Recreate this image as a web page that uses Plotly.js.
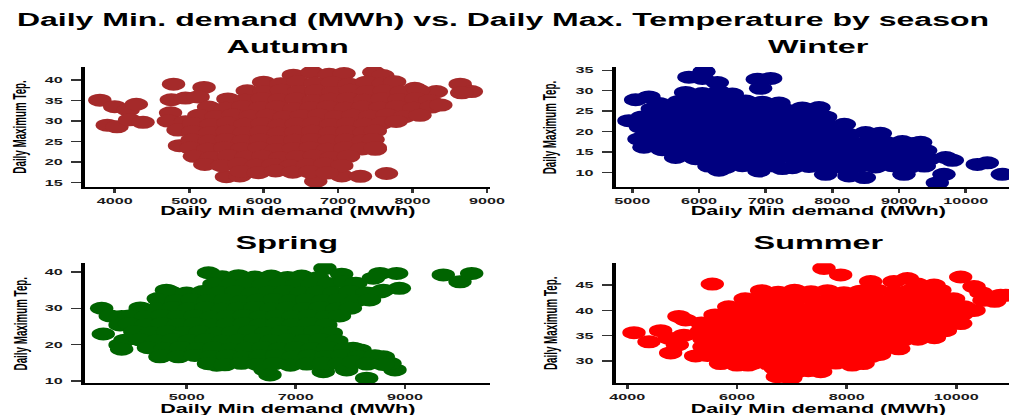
<!DOCTYPE html>
<html><head><meta charset="utf-8">
<script src="https://cdn.plot.ly/plotly-3.0.1.min.js"></script>
<style>
html,body{margin:0;padding:0;background:#fff;overflow:hidden;width:1009px;height:415px}
#wrap{width:1009px;height:415px;overflow:hidden}
#chart{width:561px;height:415px;transform:scaleX(1.79857);transform-origin:0 0}
</style></head><body><div id="wrap"><div id="chart"></div></div>
<script>
const seasons = ["Autumn", "Winter", "Spring", "Summer"];
const seasonColors = ["#A52A2A", "#000080", "#006400", "#FF0000"];
const mainTitle = "Daily Min. demand (MWh) vs. Daily Max. Temperature by season";
const xTitle = "Daily Min demand (MWh)";
const yTitle = "Daily Maximum Tep.";

// [daily min demand (MWh), daily max temperature]
const autumnPoints = [
[3800,35.1],[4000,33.5],[4180,32.7],[4290,34.1],[3900,29.0],[4030,28.6],[4200,30.3],[4380,29.7],
[4790,39.0],[4760,35.2],[4950,35.6],[4750,32.0],[4720,30.0],[4950,29.8],[4850,27.8],[4870,24.0],
[5200,38.2],[5120,35.9],[8320,37.2],[8270,34.0],[8640,39.0],[8790,37.2],[8660,36.9],[8030,38.0],
[7500,23.1],[7520,29.0],[8050,32.7],[5500,16.4],[5680,16.6],[6700,15.3],[7050,16.6],[7300,16.5],[7650,17.2],
[6400,41.2],[6650,41.9],[6880,41.4],[7080,41.6],[7480,41.9],[7600,41.1],
[6000,39.5],[6230,39.1],[6460,39.6],[6690,39.2],[6920,39.4],[7150,39.0],[7380,39.5],[7610,39.2],[7760,39.6],
[5780,37.4],[6010,37.1],[6240,37.5],[6470,37.2],[6700,37.4],[6930,37.0],[7160,37.5],[7390,37.2],[7620,37.4],[7850,37.1],[8080,37.5],
[5520,35.4],[5750,35.1],[5980,35.5],[6210,35.2],[6440,35.4],[6670,35.0],[6900,35.3],[7130,35.5],[7360,35.1],[7590,35.4],[7820,35.2],[8050,35.5],[8230,35.0],
[5260,33.4],[5490,33.1],[5720,33.5],[5950,33.2],[6180,33.4],[6410,33.0],[6640,33.3],[6870,33.5],[7100,33.1],[7330,33.4],[7560,33.2],[7790,33.5],[8020,33.1],[8250,33.4],[8380,33.9],
[5130,31.4],[5360,31.1],[5590,31.5],[5820,31.2],[6050,31.4],[6280,31.0],[6510,31.3],[6740,31.5],[6970,31.1],[7200,31.4],[7430,31.2],[7660,31.5],[7890,31.1],[8100,31.4],
[5060,29.4],[5290,29.1],[5520,29.5],[5750,29.2],[5980,29.4],[6210,29.0],[6440,29.3],[6670,29.5],[6900,29.1],[7130,29.4],[7360,29.2],[7590,29.5],[7780,29.9],
[5050,27.4],[5280,27.1],[5510,27.5],[5740,27.2],[5970,27.4],[6200,27.0],[6430,27.3],[6660,27.5],[6890,27.1],[7120,27.4],[7350,27.2],[7500,27.6],
[5040,25.4],[5270,25.1],[5500,25.5],[5730,25.2],[5960,25.4],[6190,25.0],[6420,25.3],[6650,25.5],[6880,25.1],[7110,25.4],[7340,25.2],[7470,25.5],
[5020,23.4],[5250,23.1],[5480,23.5],[5710,23.2],[5940,23.4],[6170,23.0],[6400,23.3],[6630,23.5],[6860,23.1],[7090,23.4],[7320,23.2],[7500,23.5],
[5070,21.4],[5300,21.1],[5530,21.5],[5760,21.2],[5990,21.4],[6220,21.0],[6450,21.3],[6680,21.5],[6910,21.1],[7140,21.4],
[5210,19.4],[5440,19.1],[5670,19.5],[5900,19.2],[6130,19.4],[6360,19.0],[6590,19.3],[6820,19.5],[7050,19.1],
[5700,17.7],[5930,17.4],[6160,17.8],[6390,17.5],[6620,17.6],[6850,17.3]
];

const winterPoints = [
[6075,34.7],[5850,33.3],[6050,33.0],[6275,32.0],[6875,32.8],[7075,33.0],[6925,30.6],
[5800,29.6],[6050,29.3],[6300,29.8],[6500,29.2],
[5050,27.8],[5250,28.5],[5400,26.9],[5700,27.4],[5950,27.7],[6200,27.3],[6450,27.6],[6700,27.5],[6950,27.2],[7200,27.0],
[5300,25.6],[5550,25.3],[5800,25.7],[6050,25.4],[6300,25.6],[6550,25.2],[6800,25.5],[7050,25.7],[7300,25.3],[7550,25.8],[7800,25.9],
[5150,23.6],[5400,23.3],[5650,23.7],[5900,23.4],[6150,23.6],[6400,23.2],[6650,23.5],[6900,23.7],[7150,23.3],[7400,23.6],[7650,23.4],[7900,23.6],
[5150,21.6],[5400,21.3],[5650,21.7],[5900,21.4],[6150,21.6],[6400,21.2],[6650,21.5],[6900,21.7],[7150,21.3],[7400,21.6],[7650,21.4],[7900,21.7],[8180,21.8],
[5250,19.6],[5500,19.3],[5750,19.7],[6000,19.4],[6250,19.6],[6500,19.2],[6750,19.5],[7000,19.7],[7250,19.3],[7500,19.6],[7750,19.4],[8000,19.7],[8250,19.3],[8500,19.8],[8720,19.6],
[5300,17.6],[5550,17.3],[5800,17.7],[6050,17.4],[6300,17.6],[6550,17.2],[6800,17.5],[7050,17.7],[7300,17.3],[7550,17.6],[7800,17.4],[8050,17.7],[8300,17.3],[8550,17.6],[8800,17.4],[9050,17.6],[9250,17.2],[9325,17.4],
[5450,15.6],[5700,15.3],[5950,15.7],[6200,15.4],[6450,15.6],[6700,15.2],[6950,15.5],[7200,15.7],[7450,15.3],[7700,15.6],[7950,15.4],[8200,15.7],[8450,15.3],[8700,15.6],[8950,15.4],[9200,15.7],[9400,15.4],
[5650,13.7],[5950,13.4],[6200,13.6],[6450,13.3],[6700,13.6],[6950,13.4],[7200,13.7],[7450,13.3],[7700,13.6],[7950,13.4],[8200,13.7],[8450,13.3],[8700,13.6],[8950,13.4],[9200,13.7],[9450,13.3],[9700,13.7],[9800,13.0],
[6150,11.6],[6400,11.3],[6650,11.7],[6900,11.4],[7150,11.6],[7400,11.2],[7650,11.5],[7900,11.7],[8150,11.3],[8400,11.6],[8650,11.4],[8900,11.7],[9150,11.3],[9380,11.6],
[6300,10.6],[6900,10.4],[7250,11.0],[7900,9.6],[8250,9.2],[8480,8.8],
[4950,22.7],[5100,18.2],[5175,16.2],[5125,21.1],
[10175,12.0],[10325,12.4],[10550,9.6],[9575,7.5],[9675,9.6],[9075,9.6]
];

const springPoints = [
[3443,30.0],[3473,22.9],[3600,27.9],[3810,27.7],[3780,25.4],[3870,21.2],[3780,19.9],[3810,18.7],[4150,29.5],[4630,35.0],[4480,32.7],[4510,16.6],
[5400,39.8],[5700,38.0],[7534,41.0],[7840,39.4],[8542,39.6],[8847,39.6],[8420,38.3],[8897,35.5],[9702,39.2],[10008,37.3],[10222,39.6],[8298,34.1],[8603,35.0],
[6527,11.6],[6436,13.0],[7504,12.5],[7932,13.0],[8298,10.7],[8817,13.0],[8725,14.8],[8603,16.6],[8176,18.5],[5550,14.3],
[5650,38.7],[5950,39.0],[6250,38.6],[6550,38.9],[6850,38.5],[7107,38.9],[7400,38.4],
[5500,36.7],[5800,36.4],[6100,36.8],[6400,36.5],[6700,36.7],[7000,36.3],[7300,36.6],[7600,36.8],[7900,37.3],[8100,36.9],
[4700,34.5],[5000,34.2],[5300,34.6],[5600,34.3],[5900,34.5],[6200,34.1],[6500,34.4],[6800,34.6],[7100,34.2],[7400,34.5],[7700,34.3],[8000,34.6],[8300,34.2],[8550,34.5],
[4500,32.3],[4800,32.0],[5100,32.4],[5400,32.1],[5700,32.3],[6000,31.9],[6300,32.2],[6600,32.4],[6900,32.0],[7200,32.3],[7500,32.1],[7800,32.4],[8100,32.0],[8350,32.3],
[4150,30.1],[4450,29.8],[4750,30.2],[5050,29.9],[5350,30.1],[5650,29.7],[5950,30.0],[6250,30.2],[6550,29.8],[6850,30.1],[7150,29.9],[7450,30.2],[7750,29.8],[8000,30.0],
[3950,27.9],[4250,27.6],[4550,28.0],[4850,27.7],[5150,27.9],[5450,27.5],[5750,27.8],[6050,28.0],[6350,27.6],[6650,27.9],[6950,27.7],[7250,28.0],[7550,27.6],[7800,27.9],
[3950,25.7],[4250,25.4],[4550,25.8],[4850,25.5],[5150,25.7],[5450,25.3],[5750,25.6],[6050,25.8],[6350,25.4],[6650,25.7],[6950,25.5],[7250,25.8],[7550,25.4],
[4050,23.5],[4350,23.2],[4650,23.6],[4950,23.3],[5250,23.5],[5550,23.1],[5850,23.4],[6150,23.6],[6450,23.2],[6750,23.5],[7050,23.3],[7350,23.6],[7650,23.2],
[4150,21.3],[4450,21.0],[4750,21.4],[5050,21.1],[5350,21.3],[5650,20.9],[5950,21.2],[6250,21.4],[6550,21.0],[6850,21.3],[7150,21.1],[7450,21.4],[7750,21.0],
[4300,19.1],[4600,18.8],[4900,19.2],[5200,18.9],[5500,19.1],[5800,18.7],[6100,19.0],[6400,19.2],[6700,18.8],[7000,19.1],[7300,18.9],[7600,19.2],[7900,18.8],[8050,19.0],
[4550,16.9],[4850,16.6],[5150,17.0],[5450,16.7],[5750,16.9],[6050,16.5],[6350,16.8],[6650,17.0],[6950,16.6],[7250,16.9],[7550,16.7],[7850,17.0],[8150,16.6],[8450,16.9],
[5400,14.7],[5700,14.4],[6000,14.8],[6300,14.5],[6600,14.7],[6900,14.3],[7200,14.6],[7500,14.8],[7800,14.7],[8050,15.2],[8300,14.6],[8600,14.5]
];

const summerPoints = [
[4122,35.6],[4395,33.8],[4608,36.0],[4760,34.5],[4790,31.6],[4942,38.8],[5033,35.1],[4912,33.2],[5246,31.0],[5064,38.1],[5550,45.2],[5398,32.8],[5459,37.4],
[7587,48.3],[7891,47.0],[8438,45.7],[8863,45.7],[9107,46.3],[9290,45.2],[9594,45.0],[10080,46.6],[10323,44.7],[10505,42.0],[10809,43.0],[10650,42.5],
[10141,40.7],[10323,40.0],[10080,37.4],[10700,41.8],[10900,43.0],[10450,43.5],[6736,26.9],[6979,26.6],[7040,27.6],[7526,27.9],
[6450,43.9],[6750,43.6],[7050,44.0],[7350,43.7],[7650,43.9],[7950,43.5],[8250,43.8],[8550,44.0],[8850,43.6],[9150,43.9],[9450,43.7],[9700,44.0],
[6150,42.3],[6450,42.0],[6750,42.4],[7050,42.1],[7350,42.3],[7650,41.9],[7950,42.2],[8250,42.4],[8550,42.0],[8850,42.3],[9150,42.1],[9450,42.4],[9750,42.0],[9950,42.3],
[5850,40.7],[6150,40.4],[6450,40.8],[6750,40.5],[7050,40.7],[7350,40.3],[7650,40.6],[7950,40.8],[8250,40.4],[8550,40.7],[8850,40.5],[9150,40.8],[9450,40.4],[9750,40.7],[10050,40.5],
[5600,39.1],[5900,38.8],[6200,39.2],[6500,38.9],[6800,39.1],[7100,38.7],[7400,39.0],[7700,39.2],[8000,38.8],[8300,39.1],[8600,38.9],[8900,39.2],[9200,38.8],[9500,39.1],[9800,38.9],[10100,39.2],
[5350,37.5],[5650,37.2],[5950,37.6],[6250,37.3],[6550,37.5],[6850,37.1],[7150,37.4],[7450,37.6],[7750,37.2],[8050,37.5],[8350,37.3],[8650,37.6],[8950,37.2],[9250,37.5],[9550,37.3],[9850,37.6],
[5350,35.9],[5650,35.6],[5950,36.0],[6250,35.7],[6550,35.9],[6850,35.5],[7150,35.8],[7450,36.0],[7750,35.6],[8050,35.9],[8350,35.7],[8650,36.0],[8950,35.6],[9250,35.9],[9550,35.7],[9800,36.0],
[5400,34.3],[5700,34.0],[6000,34.4],[6300,34.1],[6600,34.3],[6900,33.9],[7200,34.2],[7500,34.4],[7800,34.0],[8100,34.3],[8400,34.1],[8700,34.4],[9000,34.0],[9300,34.3],[9600,34.6],
[5420,32.7],[5720,32.4],[6020,32.8],[6320,32.5],[6620,32.7],[6920,32.3],[7220,32.6],[7520,32.8],[7820,32.4],[8120,32.7],[8420,32.5],[8720,32.8],[8950,32.4],
[5460,31.1],[5760,30.8],[6060,31.2],[6360,30.9],[6660,31.1],[6960,30.7],[7260,31.0],[7560,31.2],[7860,30.8],[8160,31.1],[8450,30.9],[8600,31.3],
[5700,29.5],[6000,29.2],[6300,29.6],[6600,29.3],[6900,29.5],[7200,29.1],[7500,29.4],[7800,29.6],[8100,29.2],[8300,29.5],
[6200,29.2],[6700,28.5],[7000,28.3],[7300,28.1],[7500,28.2]
];

const autumnXTicks = [4000, 5000, 6000, 7000, 8000, 9000];
const autumnYTicks = [15, 20, 25, 30, 35, 40];
const winterXTicks = [5000, 6000, 7000, 8000, 9000, 10000];
const winterYTicks = [10, 15, 20, 25, 30, 35];
const springXTicks = [5000, 7000, 9000];
const springYTicks = [10, 20, 30, 40];
const summerXTicks = [4000, 6000, 8000, 10000];
const summerYTicks = [30, 35, 40, 45];

const seasonPoints = [autumnPoints, winterPoints, springPoints, summerPoints];
const xTickSets = [autumnXTicks, winterXTicks, springXTicks, summerXTicks];
const yTickSets = [autumnYTicks, winterYTicks, springYTicks, summerYTicks];
const xRanges = [[3600, 9040], [4751, 10650], [3137, 10557], [3788, 10961]];
const yRanges = [[13.9, 43.2], [6.5, 35.8], [9.3, 42.4], [25.6, 49.3]];

const FONT = "Liberation Sans, Arial, Helvetica, sans-serif";
const xDomains = [[0.0842, 0.4856], [0.6102, 1.0], [0.0842, 0.4856], [0.6102, 1.0]];
const yDomains = [[0.5494, 0.8386], [0.5494, 0.8386], [0.0764, 0.3655], [0.0764, 0.3655]];

const traces = seasons.map((s, i) => ({
  type: "scatter", mode: "markers", name: s,
  x: seasonPoints[i].map(p => p[0]),
  y: seasonPoints[i].map(p => p[1]),
  xaxis: i === 0 ? "x" : "x" + (i + 1),
  yaxis: i === 0 ? "y" : "y" + (i + 1),
  marker: {color: seasonColors[i], size: 13, line: {width: 0}},
  showlegend: false, hoverinfo: "skip"
}));

const layout = {
  width: 561, height: 415,
  margin: {l: 0, r: 0, t: 0, b: 0, pad: 0},
  paper_bgcolor: "#fff", plot_bgcolor: "#fff",
  font: {family: FONT, color: "#000"},
  showlegend: false,
  title: {text: mainTitle, x: 0.4985, y: 0.952, xanchor: "center", yanchor: "middle",
          xref: "paper", yref: "paper",
          font: {family: FONT, size: 17.8, weight: "bold", color: "#000"}},
  annotations: []
};

const subX = [0.2849, 0.811, 0.2849, 0.811];
const subTitleY = [0.8867, 0.8867, 0.4145, 0.4145];
const xTitleY = [0.491, 0.491, 0.0145, 0.0145];
const yTitleX = [0.0208, 0.546, 0.0198, 0.545];

seasons.forEach((s, i) => {
  const k = i === 0 ? "" : String(i + 1);
  layout["xaxis" + k] = {
    domain: xDomains[i], range: xRanges[i], anchor: "y" + k,
    tickvals: xTickSets[i], ticktext: xTickSets[i].map(String),
    showline: true, linecolor: "#000", linewidth: 2,
    ticks: "outside", ticklen: 4, tickwidth: 1.5, tickcolor: "#333",
    showgrid: false, zeroline: false,
    tickfont: {family: FONT, size: 9, weight: "bold", color: "#1a1a1a"}
  };
  layout["yaxis" + k] = {
    domain: yDomains[i], range: yRanges[i], anchor: "x" + k,
    tickvals: yTickSets[i], ticktext: yTickSets[i].map(String),
    showline: true, linecolor: "#000", linewidth: 2,
    ticks: "outside", ticklen: 5.5, tickwidth: 1.5, tickcolor: "#333",
    ticklabelstandoff: 3,
    showgrid: false, zeroline: false,
    tickfont: {family: FONT, size: 9, weight: "bold", color: "#1a1a1a"}
  };
  layout.annotations.push({text: s, xref: "paper", yref: "paper", x: subX[i], y: subTitleY[i],
    xanchor: "center", yanchor: "middle", showarrow: false,
    font: {family: FONT, size: 18, weight: "bold", color: "#000"}});
  layout.annotations.push({text: xTitle, xref: "paper", yref: "paper", x: subX[i], y: xTitleY[i],
    xanchor: "center", yanchor: "middle", showarrow: false,
    font: {family: FONT, size: 12, weight: "bold", color: "#000"}});
  layout.annotations.push({text: yTitle, xref: "paper", yref: "paper", x: yTitleX[i],
    y: (yDomains[i][0] + yDomains[i][1]) / 2, textangle: -90,
    xanchor: "center", yanchor: "middle", showarrow: false,
    font: {family: FONT, size: 9.8, weight: "bold", color: "#000"}});
});

Plotly.newPlot("chart", traces, layout, {staticPlot: true, displayModeBar: false});
</script></body></html>
